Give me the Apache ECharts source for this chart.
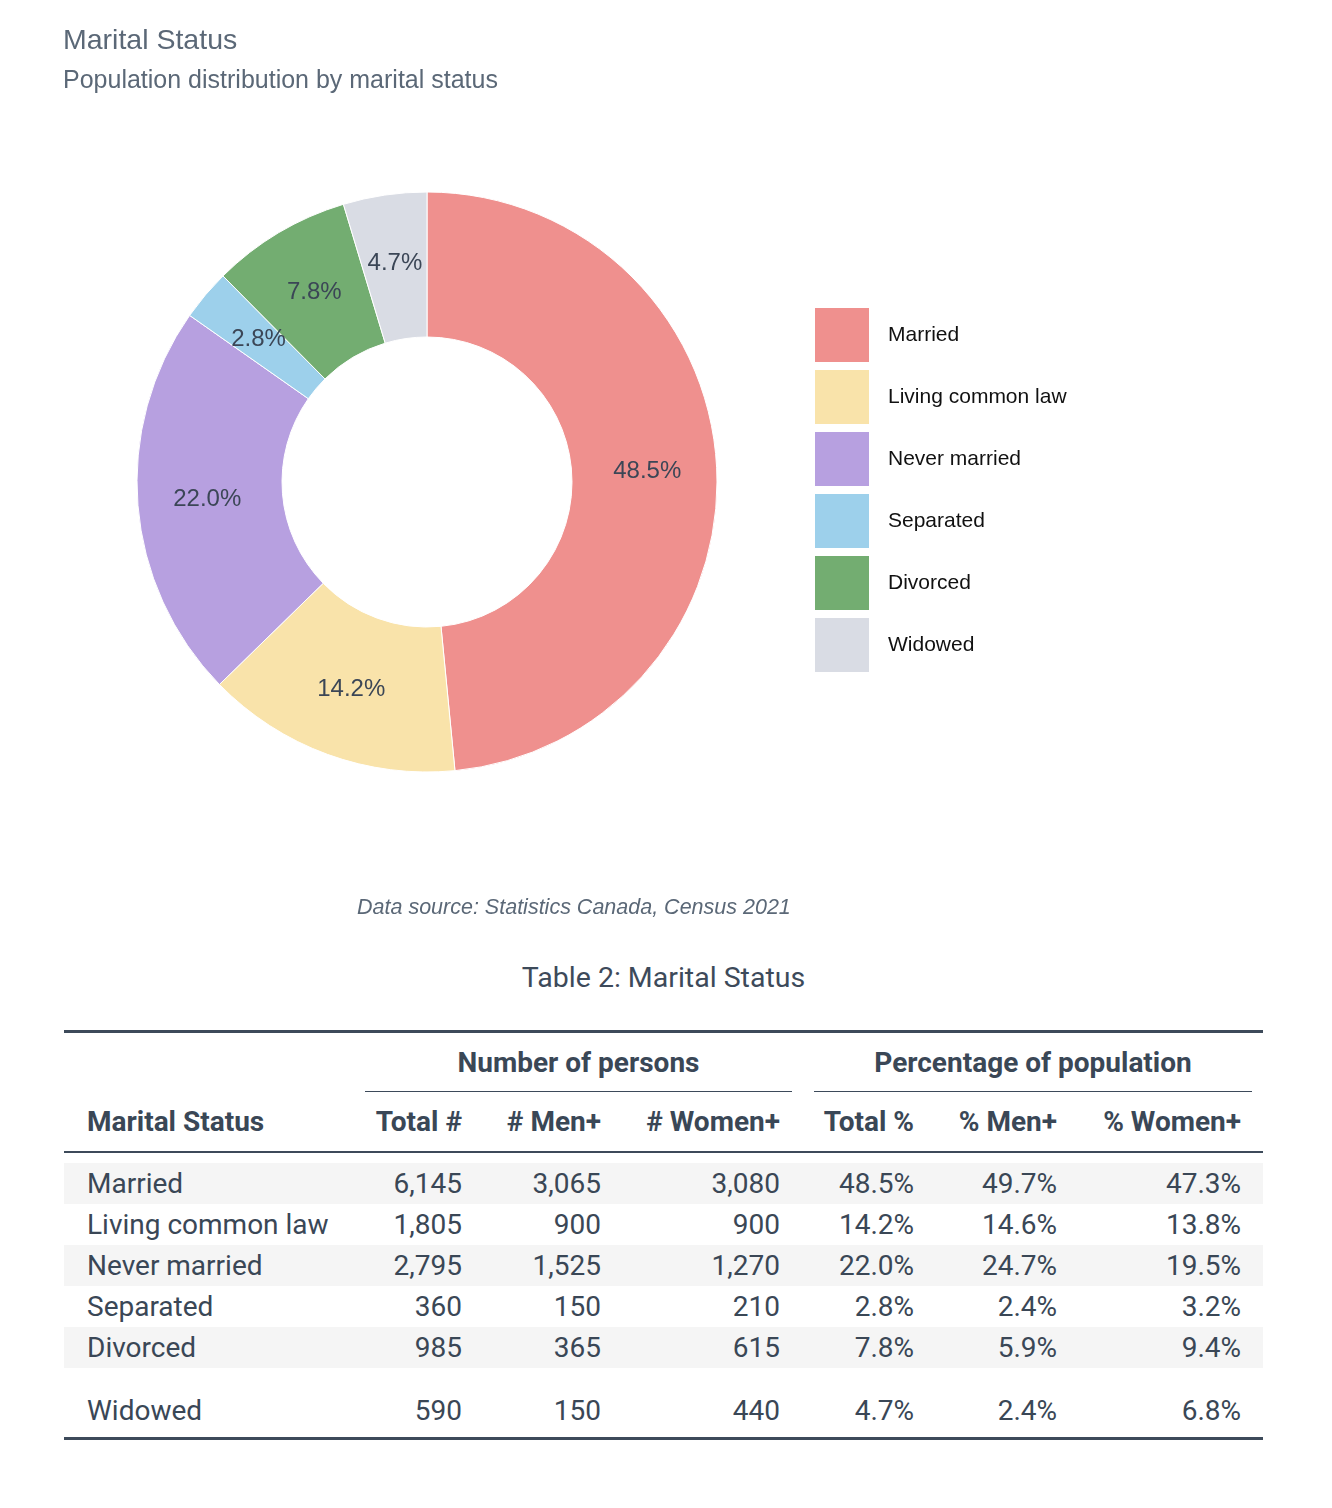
<!DOCTYPE html>
<html>
<head>
<meta charset="utf-8">
<script src="https://cdn.jsdelivr.net/npm/echarts@6/dist/echarts.min.js"></script>
<style>
  html, body { margin: 0; padding: 0; background: #ffffff; width: 1332px; height: 1508px; overflow: hidden; }
  #chart { position: absolute; left: 0; top: 0; width: 1332px; height: 950px; }
  #caption { position: absolute; left: 64px; top: 958px; width: 1199px; height: 40px; line-height: 40px; text-align: center;
    font-family: Roboto, sans-serif; font-size: 28.5px; color: #3d4a5a; }
  #tbl { position: absolute; left: 64px; top: 1030px; width: 1199px; border-collapse: collapse; table-layout: fixed;
    font-family: Roboto, sans-serif; color: #3a4756; }
  #tbl th { font-weight: bold; font-size: 28px; padding: 0; }
  #tbl td { font-size: 28px; padding: 0; }
  #tbl thead tr.top { height: 60px; border-top: 3px solid #3d4a5a; }
  #tbl thead tr.cols { height: 60px; border-bottom: 2px solid #3d4a5a; }
  #tbl .span { text-align: center; vertical-align: top; }
  #tbl .span div { height: 58px; line-height: 60px; border-bottom: 1.5px solid #3d4a5a; }
  #tbl .l { text-align: left; padding-left: 23px; }
  #tbl .r { text-align: right; }
  #tbl tbody tr { height: 41px; }
  #tbl tbody tr.spacer { height: 11px; }
  #tbl tbody tr.stripe td { background: #f5f5f5; }
  #tbl tbody tr.tall { height: 70px; }
  #tbl tbody tr.tall td { padding-top: 16px; }
  #tbl tbody tr.last { border-bottom: 3px solid #3d4a5a; }
</style>
</head>
<body>
<div id="chart"></div>
<div id="caption"></div>
<table id="tbl"></table>
<script>
// ---- data ----
const categories = ['Married', 'Living common law', 'Never married', 'Separated', 'Divorced', 'Widowed'];
const totalCount = [6145, 1805, 2795, 360, 985, 590];
const menCount = [3065, 900, 1525, 150, 365, 150];
const womenCount = [3080, 900, 1270, 210, 615, 440];
const totalPct = [48.5, 14.2, 22.0, 2.8, 7.8, 4.7];
const menPct = [49.7, 14.6, 24.7, 2.4, 5.9, 2.4];
const womenPct = [47.3, 13.8, 19.5, 3.2, 9.4, 6.8];
const sliceColors = ['#ef908e', '#f9e3aa', '#b7a0e0', '#9dd0eb', '#73ad71', '#d9dce4'];
const colHeaders = ['Marital Status', 'Total #', '# Men+', '# Women+', 'Total %', '% Men+', '% Women+'];
const spanners = ['Number of persons', 'Percentage of population'];
const tableTitle = 'Table 2: Marital Status';

// ---- chart ----
const chart = echarts.init(document.getElementById('chart'), null, { renderer: 'canvas' });
const font = '"Liberation Sans", Arial, Helvetica, sans-serif';
chart.setOption({
  animation: false,
  color: sliceColors,
  title: [
    {
      text: 'Marital Status',
      subtext: 'Population distribution by marital status',
      left: 63, top: 27, padding: 0, itemGap: 13,
      textStyle: { fontFamily: font, fontSize: 28.5, fontWeight: 'normal', color: '#5b6877' },
      subtextStyle: { fontFamily: font, fontSize: 25, color: '#5b6877' }
    },
    {
      text: 'Data source: Statistics Canada, Census 2021',
      left: 357, top: 897, padding: 0,
      textStyle: { fontFamily: font, fontSize: 21.5, fontWeight: 'normal', fontStyle: 'italic', color: '#5b6877' }
    }
  ],
  legend: {
    orient: 'vertical',
    left: 813, top: 306,
    itemWidth: 56, itemHeight: 56, itemGap: 4,
    icon: 'rect',
    padding: 0,
    data: categories,
    textStyle: { fontFamily: font, fontSize: 21, color: '#111111', padding: [0, 0, 0, 13] }
  },
  series: [{
    type: 'pie',
    center: [427, 482],
    radius: [145, 290],
    startAngle: 90,
    clockwise: true,
    avoidLabelOverlap: false,
    itemStyle: { borderColor: '#ffffff', borderWidth: 1 },
    label: {
      show: true,
      position: 'inside',
      fontFamily: font,
      fontSize: 24,
      color: '#3b4656',
      formatter: p => totalPct[p.dataIndex].toFixed(1) + '%'
    },
    labelLine: { show: false },
    data: categories.map((c, i) => ({ name: c, value: totalCount[i] }))
  }]
});

// ---- table ----
document.getElementById('caption').textContent = tableTitle;
const fmtInt = v => v.toLocaleString('en-US');
const fmtPct = v => v.toFixed(1) + '%';
const widths = [301, 121, 139, 178, 135, 143, 182];
const pads = [0, 24, 24, 23, 24, 24, 22];
const spanMargins = ['0 11px 0 0', '0 11px'];
let html = '<colgroup>' + widths.map(w => `<col style="width:${w}px">`).join('') + '</colgroup>';
html += '<thead><tr class="top"><th></th>' +
  spanners.map((s, k) => `<th colspan="3" class="span"><div style="margin:${spanMargins[k]}">${s}</div></th>`).join('') +
  '</tr>';
html += '<tr class="cols">' + colHeaders.map((h, i) =>
  i === 0 ? `<th class="l">${h}</th>` : `<th class="r" style="padding-right:${pads[i]}px">${h}</th>`).join('') + '</tr></thead>';
html += '<tbody><tr class="spacer"><td colspan="7"></td></tr>';
categories.forEach((c, i) => {
  const vals = [fmtInt(totalCount[i]), fmtInt(menCount[i]), fmtInt(womenCount[i]),
                fmtPct(totalPct[i]), fmtPct(menPct[i]), fmtPct(womenPct[i])];
  let cls = [];
  if (i % 2 === 0) cls.push('stripe');
  if (i === categories.length - 1) cls.push('tall', 'last');
  html += `<tr class="${cls.join(' ')}"><td class="l">${c}</td>` +
    vals.map((v, j) => `<td class="r" style="padding-right:${pads[j + 1]}px">${v}</td>`).join('') + '</tr>';
});
html += '</tbody>';
document.getElementById('tbl').innerHTML = html;
</script>
</body>
</html>
